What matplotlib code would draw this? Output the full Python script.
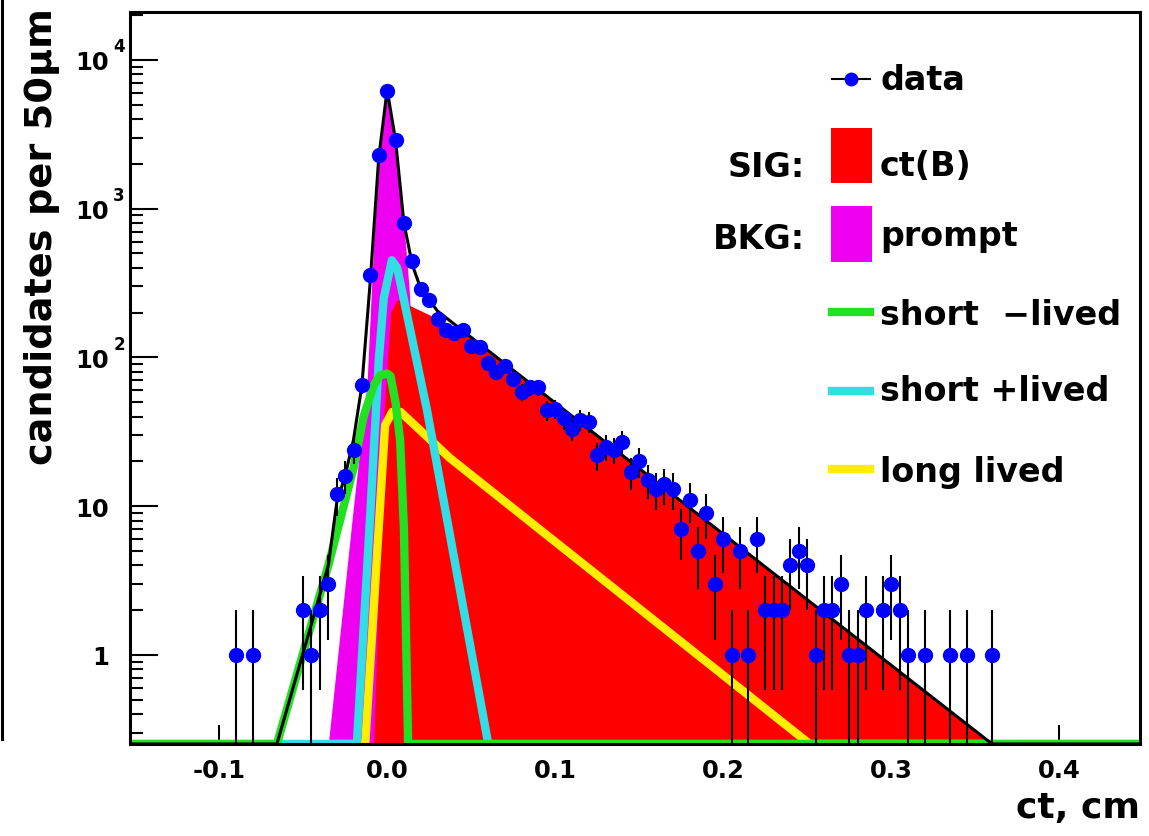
import numpy as np
import matplotlib
matplotlib.use("Agg")
import matplotlib.pyplot as plt
from matplotlib.lines import Line2D
from matplotlib.patches import Rectangle
from matplotlib.ticker import FixedLocator, NullLocator, FormatStrFormatter

plt.rcParams['font.family'] = ['DejaVu Sans']
plt.rcParams['font.weight'] = 'bold'

# Axis range
XMIN, XMAX = -0.153, 0.448
YMIN, YMAX = 0.252, 21000

# Data: bin centres (cm) and candidates per 50 um
ct_data = [-0.090, -0.080, -0.050, -0.045, -0.040, -0.035, -0.030, -0.025, -0.020, -0.015,
           -0.010, -0.005, 0.000, 0.005, 0.010, 0.015, 0.020, 0.025, 0.030, 0.035,
           0.040, 0.045, 0.050, 0.055, 0.060, 0.065, 0.070, 0.075, 0.080, 0.085,
           0.090, 0.095, 0.100, 0.105, 0.110, 0.115, 0.120, 0.125, 0.130, 0.135,
           0.140, 0.145, 0.150, 0.155, 0.160, 0.165, 0.170, 0.175, 0.180, 0.185,
           0.190, 0.195, 0.200, 0.205, 0.210, 0.215, 0.220, 0.225, 0.230, 0.235,
           0.240, 0.245, 0.250, 0.255, 0.260, 0.265, 0.270, 0.275, 0.280, 0.285,
           0.295, 0.300, 0.305, 0.310, 0.320, 0.335, 0.345, 0.360]
counts = [1, 1, 2, 1, 2, 3, 12, 16, 24, 65,
          356, 2300, 6200, 2900, 800, 445, 290, 245, 180, 153,
          147, 154, 120, 117, 92, 80, 88, 72, 59, 63,
          63, 44, 45, 39, 33, 38, 37, 22, 25, 24,
          27, 17, 20, 15, 13, 14, 13, 7, 11, 5,
          9, 3, 6, 1, 5, 1, 6, 2, 2, 2,
          4, 5, 4, 1, 2, 2, 3, 1, 1, 2,
          2, 3, 2, 1, 1, 1, 1, 1]

# Fit components, vertices (log scale looks piecewise linear)
total_x = [XMIN, -0.0656, -0.035, -0.030, -0.025, -0.020, -0.015, -0.010, -0.005, 0.000,
           0.005, 0.010, 0.015, 0.020, 0.030, 0.360, XMAX]
total_y = [YMIN, YMIN, 4.0, 10.5, 16, 28, 65, 330, 2200, 6300,
           2900, 800, 420, 290, 205, YMIN, YMIN]

sig_x = [-0.008, -0.002, 0.002, 0.006, 0.0137, 0.045, 0.050, 0.360]
sig_y = [YMIN, 40, 200, 245, 223, 151, 137, YMIN]

prompt_x = [-0.035, -0.020, -0.015, -0.012, -0.008, -0.005, 0.000, 0.005, 0.010, 0.013, 0.020, 0.035]
prompt_y = [YMIN, 10, 32, 65, 600, 2100, 6200, 2850, 780, 300, 12, YMIN]

short_neg_x = [XMIN, -0.0656, -0.035, -0.020, -0.014, -0.008, -0.004, 0.000, 0.002, 0.005,
               0.0077, 0.010, 0.0125, XMAX]
short_neg_y = [YMIN, YMIN, 4.0, 18, 40, 65, 76, 78, 75, 50,
               28, 7, YMIN, YMIN]

short_pos_x = [XMIN, -0.018, -0.010, -0.005, -0.002, 0.0028, 0.006, 0.0236, 0.0602, XMAX]
short_pos_y = [YMIN, YMIN, 9, 95, 250, 450, 400, 45, YMIN, YMIN]

long_x = [XMIN, -0.013, -0.006, -0.0012, 0.003, 0.008, 0.0375, 0.2515, XMAX]
long_y = [YMIN, YMIN, 4.7, 35, 43, 43, 21, YMIN, YMIN]

W, H = 1149, 837
fig = plt.figure(figsize=(W / 100, H / 100), dpi=100, facecolor="white")
ax = fig.add_axes([130 / W, 1 - 745 / H, 1010 / W, 732 / H])
ax.set_yscale("log")
ax.set_xlim(XMIN, XMAX)
ax.set_ylim(YMIN, YMAX)

red = "#ff0000"
magenta = "#f000f0"
green = "#22e022"
cyan = "#33dde6"
yellow = "#ffee00"
lw_fit = 6

ax.fill_between(prompt_x, prompt_y, YMIN, color=magenta, lw=0, zorder=1)
ax.fill_between(sig_x, sig_y, YMIN, color=red, lw=0, zorder=2)
ax.plot(long_x, long_y, color=yellow, lw=lw_fit, zorder=3, solid_joinstyle="round")
ax.plot(short_pos_x, short_pos_y, color=cyan, lw=lw_fit, zorder=4, solid_joinstyle="round")
ax.plot(short_neg_x, short_neg_y, color=green, lw=lw_fit, zorder=5, solid_joinstyle="round")
ax.plot(total_x, total_y, color="black", lw=2.2, zorder=6)

# Data with sqrt(N) errors
n = np.array(counts, dtype=float)
err_hi = np.sqrt(n)
err_lo = np.minimum(np.sqrt(n), n - 1e-3)
ax.errorbar(ct_data, counts, yerr=[err_lo, err_hi], fmt="o", color="#0000ff",
            ms=10, ecolor="black", elinewidth=1.5, capsize=0, zorder=7)

# Axis styling
for s in ax.spines.values():
    s.set_linewidth(2.2)
    s.set_zorder(8)
ax.xaxis.set_major_locator(FixedLocator([-0.1, 0.0, 0.1, 0.2, 0.3, 0.4]))
ax.xaxis.set_major_formatter(FormatStrFormatter("%.1f"))
ax.xaxis.set_minor_locator(NullLocator())
ax.tick_params(axis="x", direction="in", length=14, width=1.5, pad=10,
               labelsize=17.5, top=False)
ax.set_yticks([1, 10, 100, 1000, 10000])
ax.set_yticklabels(["1", "10", "10", "10", "10"])
ax.yaxis.set_minor_locator(matplotlib.ticker.LogLocator(base=10, subs=np.arange(2, 10)))
ax.yaxis.set_minor_formatter(matplotlib.ticker.NullFormatter())
ax.tick_params(axis="y", which="major", direction="in", length=20, width=1.5, pad=15,
               labelsize=17.5, right=False)
ax.tick_params(axis="y", which="minor", direction="in", length=9.5, width=1.5, right=False)
for lab in ax.get_xticklabels() + ax.get_yticklabels():
    lab.set_fontweight("bold")

for v, e in zip([100, 1000, 10000], ["2", "3", "4"]):
    ax.annotate(e, xy=(0, v), xycoords=("axes fraction", "data"), xytext=(-12, 10),
                textcoords="offset points", ha="left", va="center",
                fontsize=12, fontweight="bold")

fig.text(42 / W, 1 - 8 / H, "candidates per 50\u03bcm", rotation=90, ha="center", va="top",
         fontsize=27.5, fontweight="bold")
fig.text(1140 / W, 1 - 808 / H, "ct, cm", ha="right", va="center",
         fontsize=26, fontweight="bold")

# Legend, drawn by hand like the ROOT TLegend
def fx(px):
    return px / W

def fy(py):
    return 1 - py / H

fig.add_artist(Line2D([fx(832), fx(870)], [fy(80), fy(80)], color="black", lw=1.5))
fig.add_artist(Line2D([fx(851)], [fy(80)], marker="o", color="#0000ff", ms=9))
fig.add_artist(Rectangle((fx(831), fy(184)), 41 / W, 55 / H, color=red, lw=0))
fig.add_artist(Rectangle((fx(831), fy(263)), 41 / W, 56 / H, color=magenta, lw=0))
for py, c in [(313, green), (392, cyan), (470, yellow)]:
    fig.add_artist(Line2D([fx(832), fx(870)], [fy(py), fy(py)], color=c, lw=lw_fit))

leg_text = [("data", 90), ("ct(B)", 176), ("prompt", 246),
            ("short  \u2212lived", 325), ("short +lived", 401), ("long lived", 482)]
for t, py in leg_text:
    fig.text(fx(880), fy(py), t, ha="left", va="baseline", fontsize=24, fontweight="bold")
fig.text(fx(805), fy(177), "SIG:", ha="right", va="baseline", fontsize=24, fontweight="bold")
fig.text(fx(805), fy(249), "BKG:", ha="right", va="baseline", fontsize=24, fontweight="bold")

# Frame edge of the neighbouring panel left in the crop
fig.add_artist(Line2D([fx(1.5), fx(1.5)], [1, fy(740)], color="black", lw=2.2))

fig.savefig("out.png", dpi=100, facecolor="white")
